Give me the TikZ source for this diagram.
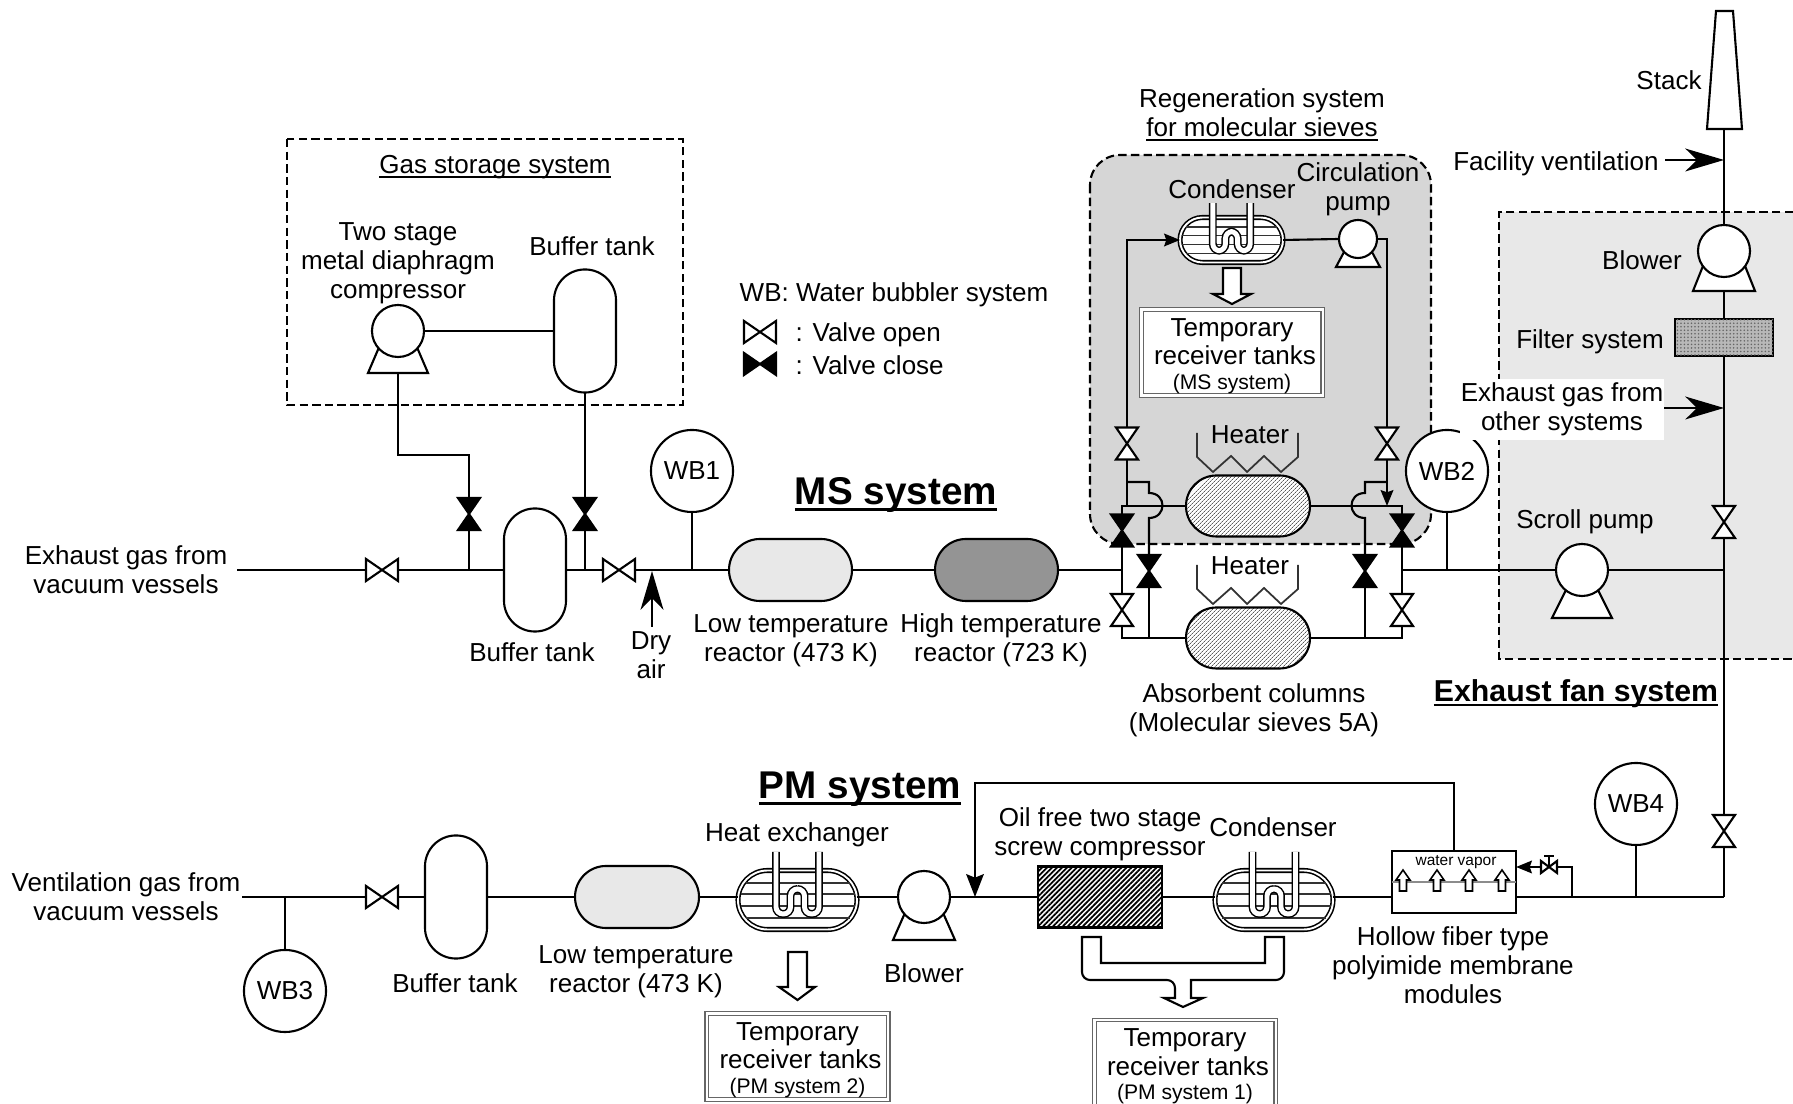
\documentclass[tikz,border=0pt]{standalone}
\usepackage{fontspec}
\setmainfont{Liberation Sans}
\usepackage{tikz}
\usepackage{xcolor}
\usetikzlibrary{arrows.meta,patterns.meta}
\colorlet{regencol}{black!16}
\colorlet{fancol}{black!9}
\colorlet{lowcol}{black!9}
\colorlet{highcol}{black!42}
\colorlet{boxcol}{black!60}
\newcommand{\bodyfont}{\fontsize{7.4}{8.2}\selectfont}
\newcommand{\notefont}{\fontsize{6}{7}\selectfont}
\newcommand{\headfont}{\fontsize{11}{12}\selectfont\bfseries}
\newcommand{\ulin}[1]{\leavevmode\setbox0\hbox{#1}\rlap{\rule[-.17em]{\wd0}{.07em}}\box0}
\newcommand{\tanktext}[1]{\rule{0pt}{7pt}Temporary\\\hspace*{.06cm}receiver tanks\\[-1.3pt]{\notefont (#1)}}
\tikzset{
  pipe/.style={line width=.6pt},
  sysdash/.style={pipe,dash pattern=on 2.4pt off 1.2pt},
  vbox/.style={minimum width=.32cm,minimum height=.22cm,inner sep=0pt,outer sep=0pt},
  capsule/.style 2 args={draw,pipe,fill=white,inner sep=0pt,outer sep=0pt,
    minimum width=#1*0.01cm,minimum height=#2*0.01cm,rounded corners=#2*0.00499cm},
  vtank/.style={draw,pipe,fill=white,inner sep=0pt,outer sep=0pt,
    minimum width=.62cm,minimum height=1.23cm,rounded corners=.309cm},
  shell/.style 2 args={capsule={#1}{#2},double,double distance=.55pt,line width=.45pt},
  column/.style={capsule={124}{61},preaction={fill=white},
    pattern={Lines[angle=45,distance=.9pt,line width=.25pt]},pattern color=black!65},
  wbub/.style={circle,draw,pipe,fill=white,minimum size=.82cm,inner sep=0pt,outer sep=0pt},
  pumpc/.style={circle,draw,pipe,fill=white,inner sep=0pt,outer sep=0pt},
  tankbox/.style={draw=boxcol,double,double distance=.6pt,line width=.4pt,fill=white,inner sep=0pt,
    minimum width=1.81cm,minimum height=.86cm,align=center},
  lbl/.style={inner sep=0pt,align=center},
  bigtip/.style={-{Stealth[length=11pt,width=6.5pt,inset=3.3pt]}},
  midtip/.style={-{Stealth[length=6.5pt,width=5pt,inset=1pt]}},
  smalltip/.style={-{Stealth[length=4.5pt,width=3.6pt,inset=.6pt]}},
}
\newcommand{\vlv}[4]{\node[vbox,#4] (#1) at (#2) {};
  \draw[pipe,fill=#3] (#1.north west) -- (#1.south east) -- (#1.north east) -- (#1.south west) -- cycle;}
\newcommand{\coil}[3]{\begin{scope}[shift={(#1.center)},xscale=#2,yscale=#3]
    \foreach \d/\i in {-17/6,-6/1,6/1,18/6}
      {\draw[line width=.35pt,black!80] (-58+\i,\d) -- (58-\i,\d);}
    \draw[rounded corners=2pt,double=white,double distance=1.4pt,line width=.42pt]
      (-21.5,-48) -- (-21.5,14) -- (-7,14) -- (-7,-11) -- (7,-11) -- (7,14) -- (21.5,14) -- (21.5,-48);
  \end{scope}}

\begin{document}
\begin{tikzpicture}[x=0.01cm,y=-0.01cm, every node/.style={font=\bodyfont}]
  \useasboundingbox (0,0) rectangle (1793,1104);
  % shaded systems
  \fill[fancol] (1499,212) rectangle (1793,659);
  \draw[sysdash] (1793,212) -- (1499,212) -- (1499,659) -- (1793,659);
  \draw[sysdash,fill=regencol,rounded corners=.3cm] (1090,155) rectangle (1431,544);
  \draw[sysdash] (287,139) rectangle (683,405);

  % pumps with their bases
  \foreach \n/\cx/\cy/\r/\tx/\by/\bx in {comp/398/331/26/12/373/30,circ/1358/239/19/7/267/22,
      fan/1724/251/26/15/291/31,scroll/1582/570/26/6/618/30,pblow/924/897/26/12/940/31}
    {\draw[pipe,fill=white] (\cx-\bx,\by) -- (\cx+\bx,\by) -- (\cx+\tx,\cy) -- (\cx-\tx,\cy) -- cycle;
     \node[pumpc,minimum size=\r*0.02cm] (\n) at (\cx,\cy) {};
     \coordinate (\n-base) at (\cx,\by);}

  % equipment, MS system
  \node[vtank] (stank) at (585,331) {};
  \node[vtank] (btank) at (535,570) {};
  \node[capsule={123}{62},fill=lowcol] (ltr) at (790.5,570) {};
  \node[capsule={123}{62},fill=highcol] (htr) at (996.5,570) {};
  \node[column] (colu) at (1248,506) {};
  \node[column] (coll) at (1248,638) {};
  \node[shell={103}{45}] (cond) at (1231.5,240) {};
  \coil{cond}{.87}{.77}
  \node[tankbox] (msbox) at (1232,352.5) {\tanktext{MS system}};
  \draw[pipe,fill=white] (1223,268) -- (1241,268) -- (1241,294) -- (1251,294) -- (1232,304) -- (1213,294) -- (1223,294) -- cycle;
  \node[draw,pipe,fill=black!28,minimum width=.98cm,minimum height=.37cm,inner sep=0pt,outer sep=0pt,
    postaction={pattern={Dots[radius=.25pt,distance=1pt]},pattern color=black!60}] (filt) at (1724,337.5) {};
  \draw[pipe,fill=white] (1716,11) -- (1733,11) -- (1742,129) -- (1707,129) -- cycle;
  \coordinate (stack) at (1724,129);

  % valves
  \vlv{v1}{382,570}{white}{}
  \vlv{v2}{619,570}{white}{}
  \vlv{gv1}{469,514}{black}{rotate=90}
  \vlv{gv2}{585,514}{black}{rotate=90}
  \vlv{ul}{1127,443.5}{white}{rotate=90}
  \vlv{ur}{1387,443.5}{white}{rotate=90}
  \vlv{cl}{1122,530.5}{black}{rotate=90}
  \vlv{cr}{1402,530.5}{black}{rotate=90}
  \vlv{il}{1149,571}{black}{rotate=90}
  \vlv{ir}{1365,571}{black}{rotate=90}
  \vlv{ol}{1122,610}{white}{rotate=90}
  \vlv{or}{1402,610}{white}{rotate=90}
  \vlv{fv1}{1724,522}{white}{rotate=90}
  \vlv{fv2}{1724,831}{white}{rotate=90}
  \vlv{v3}{382,897}{white}{}
  \vlv{lego}{760,332}{white}{}
  \vlv{legc}{760,364}{black}{}
  \vlv{pv}{1549,867}{white}{minimum width=.16cm,minimum height=.12cm}

  \node[wbub] (wb1) at (692,471) {WB1};
  \node[wbub] (wb2) at (1447,471) {WB2};
  \node[wbub] (wb3) at (285,991) {WB3};
  \node[wbub] (wb4) at (1636,804) {WB4};

  % equipment, PM system
  \node[vtank] (ptank) at (456,897) {};
  \node[capsule={124}{62},fill=lowcol] (pltr) at (637,897) {};
  \node[shell={119}{59}] (hx) at (797.5,900) {};
  \coil{hx}{1}{1}
  \node[shell={118}{59}] (pcond) at (1274,900) {};
  \coil{pcond}{1}{1}
  \node[draw,line width=.8pt,minimum width=1.24cm,minimum height=.61cm,inner sep=0pt,outer sep=0pt,
    preaction={fill=white},pattern={Lines[angle=45,distance=1pt,line width=.5pt]},pattern color=black] (scrw) at (1100,897) {};
  \node[draw,pipe,fill=white,minimum width=1.24cm,minimum height=.62cm,inner sep=0pt,outer sep=0pt] (mem) at (1454,882) {};
  \draw[line width=.6pt,black!45] (mem.west) -- (mem.east);
  \foreach \x in {1403,1437,1469,1502}
    {\draw[line width=.45pt,fill=white] (\x-3.5,891) -- (\x-3.5,880) -- (\x-7,880) -- (\x,870) -- (\x+7,880) -- (\x+3.5,880) -- (\x+3.5,891) -- cycle;}
  \node[lbl,font=\fontsize{4.4}{5}\selectfont] (wvap) at (1456,862) {water vapor};
  \node[tankbox] (pm2box) at (797.5,1056.5) {\tanktext{PM system 2}};
  \node[tankbox] (pm1box) at (1185,1063) {\tanktext{PM system 1}};
  \draw[pipe,fill=white] (788,952) -- (807,952) -- (807,987) -- (815,987) -- (797.5,1000) -- (779,987) -- (788,987) -- cycle;
  \draw[pipe,fill=white,rounded corners=.08cm] (1082,937) -- (1082,980) -- (1175,980) [sharp corners] -- (1175,998) -- (1164,998) -- (1183,1007) -- (1203,998) -- (1191,998) -- (1191,980)
    [rounded corners=.08cm] -- (1284,980) [sharp corners] -- (1284,937) -- (1265,937) -- (1265,963) -- (1101,963) -- (1101,937) -- cycle;

  % heaters
  \foreach \dy in {0,132}
    {\draw[line width=.5pt,black!80] (1197,433+\dy) -- (1197,457+\dy) -- (1213,472+\dy) -- (1231,456+\dy) -- (1247,472+\dy)
       -- (1264,456+\dy) -- (1281,472+\dy) -- (1298,457+\dy) -- (1298,433+\dy);}
  \node[lbl] (heatu) at (1250,435) {Heater};
  \node[lbl] (heatl) at (1250,566) {Heater};

  % free pipe ends and junctions
  \coordinate (inms) at (237,570);
  \coordinate (jg1) at (469,570);
  \coordinate (jg2) at (585,570);
  \coordinate (gsbend) at (398,455);
  \coordinate (dry) at (652,627);
  \coordinate (dryin) at (652,571);
  \coordinate (jwb1) at (692,570);
  \coordinate (jl) at (1122,570);
  \coordinate (jr) at (1402,570);
  \coordinate (jwb2) at (1447,570);
  \coordinate (jfan) at (1724,570);
  \coordinate (tl) at (1122,506);
  \coordinate (tr) at (1402,506);
  \coordinate (jul) at (1127,506);
  \coordinate (jur) at (1387,506);
  \coordinate (bl) at (1122,638);
  \coordinate (br) at (1402,638);
  \coordinate (ibl) at (1149,638);
  \coordinate (ibr) at (1365,638);
  \coordinate (hlt) at (1127,482);
  \coordinate (hrt) at (1387,482);
  \coordinate (inpm) at (242,897);
  \coordinate (jwb3) at (285,897);
  \coordinate (hxin) at (738,897);
  \coordinate (hxout) at (857,897);
  \coordinate (pcin) at (1215,897);
  \coordinate (pcout) at (1333,897);
  \coordinate (memin) at (1392,897);
  \coordinate (memout) at (1516,897);
  \coordinate (pj) at (1572,897);
  \coordinate (jwb4) at (1636,897);
  \coordinate (jpm) at (1724,897);
  \coordinate (rcytop) at (975,783);
  \coordinate (rcyin) at (975,897);
  \coordinate (fac) at (1665,160);
  \coordinate (facin) at (1724,160);
  \coordinate (oth) at (1664,408);
  \coordinate (othin) at (1724,408);

  % connectors, MS system
  \draw[pipe] (inms) -- (v1.west);
  \draw[pipe] (v1.east) -- (btank.west);
  \draw[pipe] (btank.east) -- (v2.west);
  \draw[pipe] (v2.east) -- (ltr.west);
  \draw[pipe] (ltr.east) -- (htr.west);
  \draw[pipe] (htr.east) -- (jl);
  \draw[pipe] (comp.east) -- (stank.west);
  \draw[pipe] (comp-base) -- (gsbend) -| (gv1.east);
  \draw[pipe] (gv1.west) -- (jg1);
  \draw[pipe] (stank.south) -- (gv2.east);
  \draw[pipe] (gv2.west) -- (jg2);
  \draw[pipe] (wb1.south) -- (jwb1);
  \draw[pipe,bigtip] (dry) -- (dryin);
  % left side of the columns
  \draw[pipe] (cl.east) -- (tl) -- (colu.west);
  \draw[pipe] (cl.west) -- (ol.east);
  \draw[pipe] (ol.west) -- (bl) -- (coll.west);
  \draw[pipe] (il.west) -- (ibl);
  \draw[pipe] (ul.west) -- (jul);
  \draw[pipe] (hlt) -- (1149,482) -- (1149,493) .. controls (1167,493) and (1167,518) .. (1149,518) -- (il.east);
  \draw[pipe,smalltip] (ul.east) |- (cond.west);
  % right side of the columns
  \draw[pipe] (cond.east) -- (circ.west);
  \draw[pipe] (circ.east) -| (ur.east);
  \draw[pipe,smalltip] (ur.west) -- (jur);
  \draw[pipe] (hrt) -- (1365,482) -- (1365,493) .. controls (1347,493) and (1347,518) .. (1365,518) -- (ir.east);
  \draw[pipe] (ir.west) -- (ibr);
  \draw[pipe] (colu.east) -- (tr) -- (cr.east);
  \draw[pipe] (cr.west) -- (or.east);
  \draw[pipe] (or.west) -- (br) -- (coll.east);
  \draw[pipe] (jr) -- (scroll.west);
  \draw[pipe] (wb2.south) -- (jwb2);
  \draw[pipe] (scroll.east) -- (jfan);
  % exhaust fan line
  \draw[pipe] (stack) -- (fan.north);
  \draw[pipe] (fan-base) -- (filt.north);
  \draw[pipe] (filt.south) -- (fv1.east);
  \draw[pipe] (fv1.west) -- (fv2.east);
  \draw[pipe] (fv2.west) -- (jpm);
  \draw[pipe,bigtip] (fac) -- (facin);
  \draw[pipe,bigtip] (oth) -- (othin);

  % connectors, PM system
  \draw[pipe] (inpm) -- (v3.west);
  \draw[pipe] (wb3.north) -- (jwb3);
  \draw[pipe] (v3.east) -- (ptank.west);
  \draw[pipe] (ptank.east) -- (pltr.west);
  \draw[pipe] (pltr.east) -- (hxin);
  \draw[pipe] (hxout) -- (pblow.west);
  \draw[pipe] (pblow.east) -- (scrw.west);
  \draw[pipe] (scrw.east) -- (pcin);
  \draw[pipe] (pcout) -- (memin);
  \draw[pipe] (memout) -- (jpm);
  \draw[pipe] (wb4.south) -- (jwb4);
  \draw[pipe,midtip] (mem.north) |- (rcytop) -- (rcyin);
  \draw[pipe] (pj) |- (pv.east);
  \draw[pipe,smalltip] (pv.west) -- (mem.east |- pv.west);
  \draw[pipe] (pv.center) -- (1549,856);
  \draw[pipe] (1544,856) -- (1554,856);

  % labels
  \node[lbl] (lexh) at (126,570) {Exhaust gas from\\vacuum vessels};
  \node[lbl] (lbt1) at (532,652) {Buffer tank};
  \node[lbl] (ldry) at (651,655) {Dry\\air};
  \node[lbl] (lltr) at (791,640.5) {Low temperature\\reactor (473 K)};
  \node[lbl] (lhtr) at (1001,640.5) {High temperature\\reactor (723 K)};
  \node[lbl] (labs) at (1254,710) {Absorbent columns\\(Molecular sieves 5A)};
  \node[lbl,font=\headfont] (lms) at (896,495) {\ulin{MS system}};
  \node[lbl,font=\headfont] (lpm) at (860,789) {\ulin{PM system}};
  \node[lbl,font=\fontsize{8.6}{10}\selectfont\bfseries] (lfan) at (1576,693.5) {\ulin{Exhaust fan system}};
  \node[lbl] (lgas) at (495,167) {\ulin{Gas storage system}};
  \node[lbl] (lcomp) at (398,263) {Two stage\\metal diaphragm\\compressor};
  \node[lbl] (lbt2) at (592,246) {Buffer tank};
  \node[lbl,anchor=west] (lwb) at (739,295) {WB: Water bubbler system};
  \node[lbl,anchor=west] (lvo) at (795,335) {: Valve open};
  \node[lbl,anchor=west] (lvc) at (795,365) {: Valve close};
  \node[lbl] (lreg) at (1262,114.5) {Regeneration system\\\ulin{for molecular sieves}};
  \node[lbl] (lcond) at (1232,189) {Condenser};
  \node[lbl] (lcirc) at (1358,189) {Circulation\\pump};
  \node[lbl] (lstack) at (1669,80) {Stack};
  \node[lbl] (lfac) at (1556,164) {Facility ventilation};
  \node[lbl] (lblow) at (1642,260) {Blower};
  \node[lbl] (lfilt) at (1590,342) {Filter system};
  \node[lbl,fill=white,minimum width=2.03cm,minimum height=.6cm] (loth) at (1562,409.5) {Exhaust gas from\\other systems};
  \node[lbl] (lscr) at (1585,522) {Scroll pump};
  \node[lbl] (lven) at (126,897) {Ventilation gas from\\vacuum vessels};
  \node[lbl] (lbt3) at (455,983) {Buffer tank};
  \node[lbl] (lpltr) at (636,972) {Low temperature\\reactor (473 K)};
  \node[lbl] (lhx) at (797,835) {Heat exchanger};
  \node[lbl] (lpb) at (924,973) {Blower};
  \node[lbl] (loil) at (1100,834) {Oil free two stage\\screw compressor};
  \node[lbl] (lpc) at (1273,827) {Condenser};
  \node[lbl] (lmem) at (1453,965) {Hollow fiber type\\polyimide membrane\\modules};
\end{tikzpicture}
\end{document}
